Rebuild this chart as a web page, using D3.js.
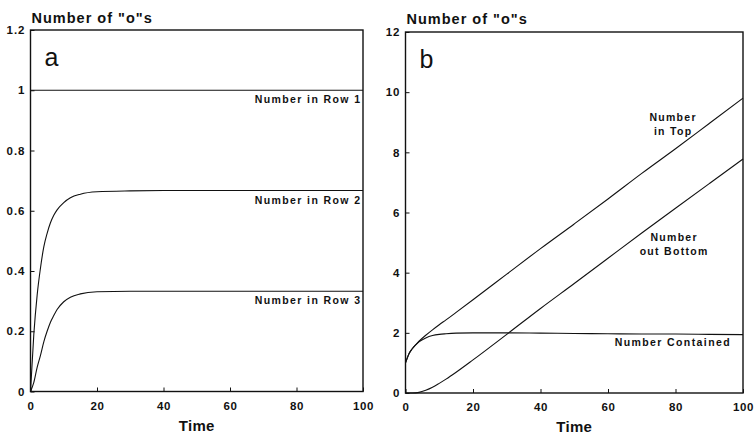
<!DOCTYPE html>
<html>
<head>
<meta charset="utf-8">
<script src="https://cdn.jsdelivr.net/npm/d3@7"></script>
<style>
  body { margin: 0; background: #fff; }
  svg { display: block; }
  text { font-family: "Liberation Sans", Arial, Helvetica, sans-serif; fill: #111; }
</style>
</head>
<body>
<script>
// panel a: number of "o"s in each row
const timeA = [0, 1, 2, 3, 4, 5, 6, 7, 8, 10, 12, 15, 20, 30, 40, 60, 80, 100];
const row1 = [1, 1, 1, 1, 1, 1, 1, 1, 1, 1, 1, 1, 1, 1, 1, 1, 1, 1];
const row2 = [0, 0.19, 0.32, 0.41, 0.48, 0.525, 0.56, 0.585, 0.603, 0.627, 0.643, 0.655, 0.663, 0.666, 0.667, 0.667, 0.667, 0.667];
const row3 = [0, 0.03, 0.08, 0.12, 0.165, 0.2, 0.23, 0.252, 0.272, 0.298, 0.313, 0.324, 0.331, 0.333, 0.333, 0.333, 0.333, 0.333];

// panel b: top / contained / out bottom
const timeB = [0, 1, 2, 3, 4, 6, 8, 10, 12, 15, 20, 30, 40, 50, 60, 70, 80, 90, 100];
const inTop = [1.0, 1.3, 1.47, 1.6, 1.72, 1.92, 2.1, 2.27, 2.43, 2.68, 3.1, 3.95, 4.8, 5.62, 6.45, 7.3, 8.12, 8.96, 9.8];
const contained = [1.0, 1.3, 1.47, 1.6, 1.7, 1.83, 1.91, 1.95, 1.97, 1.99, 2.0, 2.0, 1.99, 1.98, 1.97, 1.96, 1.96, 1.95, 1.94];
const outBottom = [0, 0, 0, 0.005, 0.02, 0.09, 0.19, 0.32, 0.46, 0.69, 1.1, 1.95, 2.81, 3.64, 4.48, 5.32, 6.14, 6.96, 7.78];

const xTicks = [0, 20, 40, 60, 80, 100];
const xTickLabels = ["0", "20", "40", "60", "80", "100"];
const yTicksA = [0, 0.2, 0.4, 0.6, 0.8, 1, 1.2];
const yTickLabelsA = ["0", "0.2", "0.4", "0.6", "0.8", "1", "1.2"];
const yTicksB = [0, 2, 4, 6, 8, 10, 12];
const yTickLabelsB = ["0", "2", "4", "6", "8", "10", "12"];

const width = 754, height = 435;

const svg = d3.create("svg")
  .attr("width", width)
  .attr("height", height)
  .attr("viewBox", [0, 0, width, height]);

const line = (x, y, ts) => d3.line()
  .x((d, i) => x(ts[i]))
  .y(d => y(d))
  .curve(d3.curveMonotoneX);

function panel({ x, y, yTicks, yLabels, letter, titleY, timeY }) {
  const g = svg.append("g");
  const [x0, x1] = x.range();
  const [y0, y1] = y.range();

  // frame
  g.append("rect")
    .attr("x", x0).attr("y", y1)
    .attr("width", x1 - x0).attr("height", y0 - y1)
    .attr("fill", "none").attr("stroke", "#111").attr("stroke-width", 1.4);

  // y axis, ticks pointing inward
  g.append("g")
    .attr("transform", `translate(${x0},0)`)
    .call(d3.axisLeft(y).tickValues(yTicks)
      .tickFormat((d, i) => yLabels[i])
      .tickSizeInner(-4).tickSizeOuter(0).tickPadding(5))
    .call(a => a.select(".domain").remove())
    .call(a => a.selectAll("line").attr("stroke", "#111"))
    .call(a => a.selectAll("text")
      .attr("font-size", 11.5).attr("font-weight", "bold")
      .attr("letter-spacing", 1).attr("fill", "#111"));

  // x axis
  g.append("g")
    .attr("transform", `translate(0,${y0})`)
    .call(d3.axisBottom(x).tickValues(xTicks)
      .tickFormat((d, i) => xTickLabels[i])
      .tickSizeInner(-4).tickSizeOuter(0).tickPadding(10))
    .call(a => a.select(".domain").remove())
    .call(a => a.selectAll("line").attr("stroke", "#111"))
    .call(a => a.selectAll("text")
      .attr("font-size", 11.5).attr("font-weight", "bold")
      .attr("letter-spacing", 0.6).attr("fill", "#111"));

  g.append("text")
    .attr("x", x0 + 1).attr("y", titleY)
    .attr("font-size", 14.5).attr("font-weight", "bold")
    .attr("letter-spacing", 1)
    .text('Number of "o"s');

  g.append("text")
    .attr("x", (x0 + x1) / 2).attr("y", timeY)
    .attr("text-anchor", "middle")
    .attr("font-size", 15).attr("font-weight", "bold")
    .attr("letter-spacing", 0.3)
    .text("Time");

  g.append("text")
    .attr("x", x0 + 14).attr("y", y1 + 36)
    .attr("font-size", 25)
    .text(letter);

  return g;
}

// ---- panel a ----
const xA = d3.scaleLinear().domain([0, 100]).range([30.5, 363]);
const yA = d3.scaleLinear().domain([0, 1.2]).range([391.5, 30]);
const gA = panel({ x: xA, y: yA, yTicks: yTicksA, yLabels: yTickLabelsA, letter: "a", titleY: 22.5, timeY: 431 });

[row1, row2, row3].forEach(s => {
  gA.append("path")
    .datum(s)
    .attr("fill", "none")
    .attr("stroke", "#111")
    .attr("stroke-width", 1.1)
    .attr("d", line(xA, yA, timeA));
});

const rowLabels = ["Number in Row 1", "Number in Row 2", "Number in Row 3"];
[1, 0.667, 0.333].forEach((v, i) => {
  gA.append("text")
    .attr("x", xA(100) - 1.5).attr("y", yA(v) + 13)
    .attr("text-anchor", "end")
    .attr("font-size", 10.5).attr("font-weight", "bold")
    .attr("letter-spacing", 1.4)
    .text(rowLabels[i]);
});

// ---- panel b ----
const xB = d3.scaleLinear().domain([0, 100]).range([405.5, 743]);
const yB = d3.scaleLinear().domain([0, 12]).range([393, 32]);
const gB = panel({ x: xB, y: yB, yTicks: yTicksB, yLabels: yTickLabelsB, letter: "b", titleY: 24, timeY: 432 });

[inTop, contained, outBottom].forEach(s => {
  gB.append("path")
    .datum(s)
    .attr("fill", "none")
    .attr("stroke", "#111")
    .attr("stroke-width", 1.1)
    .attr("d", line(xB, yB, timeB));
});

const labelB = (lines, t, v) => {
  const tx = gB.append("text")
    .attr("x", xB(t)).attr("y", yB(v))
    .attr("text-anchor", "middle")
    .attr("font-size", 10.5).attr("font-weight", "bold")
    .attr("letter-spacing", 1.3);
  lines.forEach((s, i) => {
    tx.append("tspan").attr("x", xB(t)).attr("dy", i ? 13.5 : 0).text(s);
  });
};
labelB(["Number", "in Top"], 79.3, 9.03);
labelB(["Number", "out Bottom"], 79.6, 5.05);

gB.append("text")
  .attr("x", xB(100) - 12).attr("y", yB(1.97) + 12)
  .attr("text-anchor", "end")
  .attr("font-size", 10.5).attr("font-weight", "bold")
  .attr("letter-spacing", 1.4)
  .text("Number Contained");

document.body.appendChild(svg.node());
</script>
</body>
</html>
